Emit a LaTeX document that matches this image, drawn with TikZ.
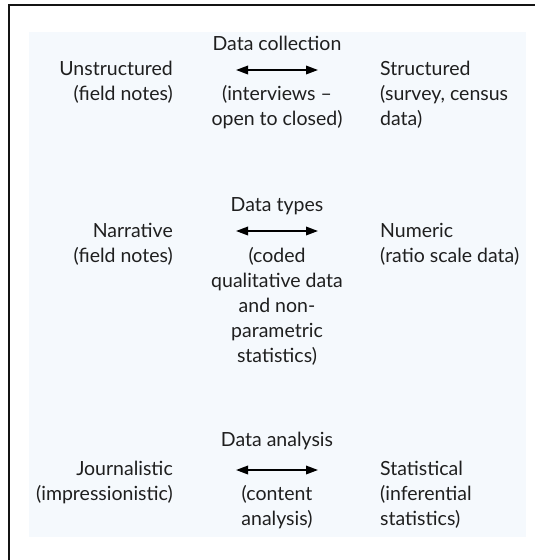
\documentclass[tikz,border=0pt]{standalone}
\usepackage{fontspec}
\setmainfont{Lato}
\usetikzlibrary{arrows.meta}
\definecolor{bgblue}{RGB}{245,249,253}
\definecolor{framegray}{RGB}{20,20,20}
\tikzset{
  txt/.style={inner sep=0pt, font=\fontsize{19.5}{25}\selectfont, text=black!88},
  lefttxt/.style={txt, align=right, anchor=base east},
  midtxt/.style={txt, align=center, anchor=base},
  righttxt/.style={txt, align=left, anchor=base west},
  dblarrow/.style={line width=1.8pt, {Triangle[length=12pt,width=8.5pt]}-{Triangle[length=12pt,width=8.5pt]}}
}
\begin{document}
\begin{tikzpicture}[x=1pt,y=-1pt]
\useasboundingbox (0,0) rectangle (535,560);
\draw[line width=2.6pt, framegray] (9,562) -- (9,5) -- (537,5);
\fill[bgblue] (29,32) rectangle (526,537);

% Data collection (multi-line nodes are anchored at their last baseline)
\node[midtxt] (t1) at (277,50) {Data collection};
\coordinate (a1l) at (236,70);
\coordinate (a1r) at (318,70);
\draw[dblarrow] (a1l) -- (a1r);
\node[lefttxt] (l1) at (173,100) {Unstructured\\(field notes)};
\node[midtxt] (c1) at (277,125) {(interviews –\\open to closed)};
\node[righttxt] (r1) at (380,125) {Structured\\(survey, census\\data)};

% Data types
\node[midtxt] (t2) at (277,211) {Data types};
\coordinate (a2l) at (236,231);
\coordinate (a2r) at (318,231);
\draw[dblarrow] (a2l) -- (a2r);
\node[lefttxt] (l2) at (173,262) {Narrative\\(field notes)};
\node[midtxt] (c2) at (277,362) {(coded\\qualitative data\\and non-\\parametric\\statistics)};
\node[righttxt] (r2) at (380,262) {Numeric\\(ratio scale data)};

% Data analysis
\node[midtxt] (t3) at (277,446) {Data analysis};
\coordinate (a3l) at (236,470);
\coordinate (a3r) at (318,470);
\draw[dblarrow] (a3l) -- (a3r);
\node[lefttxt] (l3) at (173,500) {Journalistic\\(impressionistic)};
\node[midtxt] (c3) at (277,525) {(content\\analysis)};
\node[righttxt] (r3) at (380,525) {Statistical\\(inferential\\statistics)};
\end{tikzpicture}
\end{document}
